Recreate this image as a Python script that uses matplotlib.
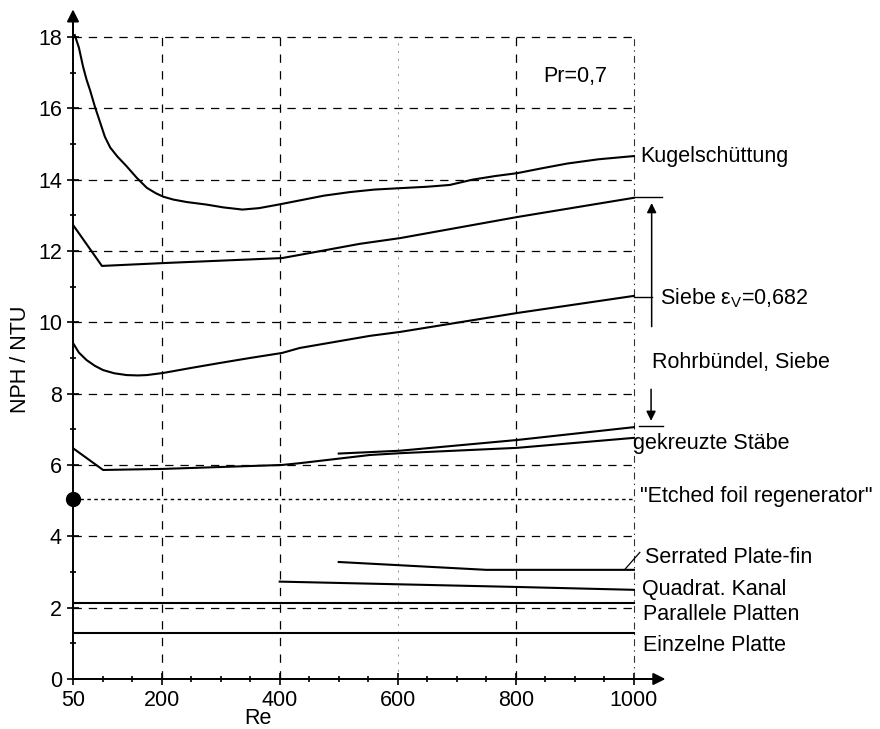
import matplotlib
matplotlib.use("Agg")
import matplotlib.pyplot as plt
import numpy as np

plt.rcParams["font.family"] = ["Liberation Sans", "DejaVu Sans"]
plt.rcParams["lines.scale_dashes"] = False
plt.rcParams["mathtext.fontset"] = "custom"
plt.rcParams["mathtext.rm"] = "Liberation Sans"

FS = 15.5

# --- data ---
kugel_re = [53, 60, 67, 73, 79, 87, 96, 104, 113, 125, 141, 158, 175, 190, 203, 220, 243, 276, 305, 337,
            365, 398, 432, 475, 519, 560, 604, 650, 688, 727, 765, 802, 845, 887, 940, 1000]
kugel_nph = [18.05, 17.7, 17.17, 16.8, 16.5, 16.05, 15.6, 15.2, 14.9, 14.65, 14.37, 14.05, 13.77, 13.62, 13.52,
             13.44, 13.37, 13.3, 13.22, 13.16, 13.2, 13.3, 13.41, 13.55, 13.65, 13.72, 13.76, 13.8, 13.85, 14.0,
             14.1, 14.18, 14.32, 14.45, 14.57, 14.66]

siebe_top_re = [50, 99, 203, 404, 434, 536, 604, 802, 1000]
siebe_top_nph = [12.73, 11.58, 11.66, 11.8, 11.89, 12.2, 12.36, 12.95, 13.49]

siebe_mid_re = [50, 60, 73, 87, 101, 120, 141, 160, 175, 203, 250, 299, 350, 404, 434, 553, 604, 802, 1000]
siebe_mid_nph = [9.42, 9.15, 8.94, 8.78, 8.66, 8.57, 8.52, 8.51, 8.52, 8.58, 8.72, 8.86, 9.0, 9.14, 9.28,
                 9.62, 9.73, 10.26, 10.74]

staebe_re = [50, 101, 203, 404, 434, 553, 604, 802, 1000]
staebe_nph = [6.47, 5.86, 5.89, 6.0, 6.05, 6.28, 6.33, 6.48, 6.76]

rohr_re = [500, 604, 802, 1000]
rohr_nph = [6.32, 6.4, 6.7, 7.06]

etched_re = [50, 1000]
etched_nph = [5.05, 5.05]

serrated_re = [500, 750, 1000]
serrated_nph = [3.28, 3.06, 3.06]

kanal_re = [400, 802, 1000]
kanal_nph = [2.73, 2.58, 2.5]

parallel_re = [50, 1000]
parallel_nph = [2.12, 2.12]

einzel_re = [50, 1000]
einzel_nph = [1.3, 1.3]

x_ticks = [50, 200, 400, 600, 800, 1000]
y_ticks = [0, 2, 4, 6, 8, 10, 12, 14, 16, 18]

fig = plt.figure(figsize=(8.8, 7.29), dpi=100)
ax = fig.add_axes([0.08295, 0.06859, 0.6777, 0.9297])
ax.set_xlim(50, 1060)
ax.set_ylim(0, 19)

# grid
ax.hlines(y_ticks[1:], 50, 1000, colors="black", linewidth=0.9, linestyles=(0, (6, 5)))
for xv in [200, 400, 800]:
    ax.vlines(xv, 0, 18, colors="black", linewidth=0.9, linestyles=(0, (6, 6)))
ax.vlines(600, 0, 18, colors="#999999", linewidth=0.7, linestyles=(0, (1.5, 4)))
ax.vlines(1000, 0, 18, colors="#333333", linewidth=0.8, linestyles=(0, (5, 3, 1, 3)))

# curves
lw = 1.5
ax.plot(kugel_re, kugel_nph, color="black", lw=lw)
ax.plot(siebe_top_re, siebe_top_nph, color="black", lw=lw)
ax.plot(siebe_mid_re, siebe_mid_nph, color="black", lw=lw)
ax.plot(staebe_re, staebe_nph, color="black", lw=lw)
ax.plot(rohr_re, rohr_nph, color="black", lw=lw)
ax.plot(etched_re, etched_nph, color="black", lw=1.0, linestyle=(0, (2.5, 2.5)))
ax.plot([etched_re[0]], [etched_nph[0]], "o", color="black", markersize=10, clip_on=False, zorder=5)
ax.plot(serrated_re, serrated_nph, color="black", lw=lw)
ax.plot(kanal_re, kanal_nph, color="black", lw=lw)
ax.plot(parallel_re, parallel_nph, color="black", lw=lw)
ax.plot(einzel_re, einzel_nph, color="black", lw=lw)

# axes with arrows
for s in ["top", "right"]:
    ax.spines[s].set_visible(False)
ax.spines["left"].set_bounds(0, 18.5)
ax.spines["bottom"].set_bounds(50, 1040)
ax.spines["left"].set_linewidth(1.4)
ax.spines["bottom"].set_linewidth(1.4)
ax.annotate("", xy=(50, 18.85), xytext=(50, 18.0),
            arrowprops=dict(arrowstyle="-|>", color="black", lw=1.4, mutation_scale=18),
            annotation_clip=False)
ax.annotate("", xy=(1058, 0), xytext=(1000, 0),
            arrowprops=dict(arrowstyle="-|>", color="black", lw=1.4, mutation_scale=18),
            annotation_clip=False)

ax.set_xticks(x_ticks)
ax.set_yticks(y_ticks)
ax.set_xticks(np.arange(50, 1001, 50), minor=True)
ax.set_yticks(np.arange(1, 18, 2), minor=True)
ax.tick_params(which="major", direction="inout", length=8, width=1.2, labelsize=FS, pad=4)
ax.tick_params(which="minor", direction="inout", length=4, width=1.2)

# annotations on the right
ax.plot([1000, 1030], [10.72, 10.72], color="black", lw=1.0, clip_on=False)
ax.plot([1002, 1047], [13.5, 13.5], color="black", lw=1.0, clip_on=False)
ax.annotate("", xy=(1030, 13.42), xytext=(1030, 9.8),
            arrowprops=dict(arrowstyle="-|>", color="black", lw=1.1, mutation_scale=14),
            annotation_clip=False)
ax.plot([1008, 1049], [7.09, 7.09], color="black", lw=1.0, clip_on=False)
ax.annotate("", xy=(1029, 7.16), xytext=(1029, 8.2),
            arrowprops=dict(arrowstyle="-|>", color="black", lw=1.1, mutation_scale=14),
            annotation_clip=False)
ax.plot([985, 1010], [3.08, 3.55], color="black", lw=0.9, clip_on=False)

ax.text(1010, 14.66, "Kugelschüttung", fontsize=FS, va="center", ha="left")
ax.text(1044, 10.68, "Siebe ε$_{\\mathrm{V}}$=0,682", fontsize=FS, va="center", ha="left")
ax.text(1030, 8.86, "Rohrbündel, Siebe", fontsize=FS, va="center", ha="left")
ax.text(998, 6.6, "gekreuzte Stäbe", fontsize=FS, va="center", ha="left")
ax.text(1010, 5.12, "\"Etched foil regenerator\"", fontsize=FS, va="center", ha="left")
ax.text(1019, 3.42, "Serrated Plate-fin", fontsize=FS, va="center", ha="left")
ax.text(1014, 2.5, "Quadrat. Kanal", fontsize=FS, va="center", ha="left")
ax.text(1015, 1.8, "Parallele Platten", fontsize=FS, va="center", ha="left")
ax.text(1015, 0.93, "Einzelne Platte", fontsize=FS, va="center", ha="left")
ax.text(846, 16.9, "Pr=0,7", fontsize=FS, va="center", ha="left")

fig.text(258 / 880, 1 - 718 / 729, "Re", fontsize=FS, ha="center", va="center")
fig.text(20 / 880, 1 - 359 / 729, "NPH / NTU", fontsize=FS, ha="center", va="center", rotation=90)

fig.savefig("out.png", dpi=100)
